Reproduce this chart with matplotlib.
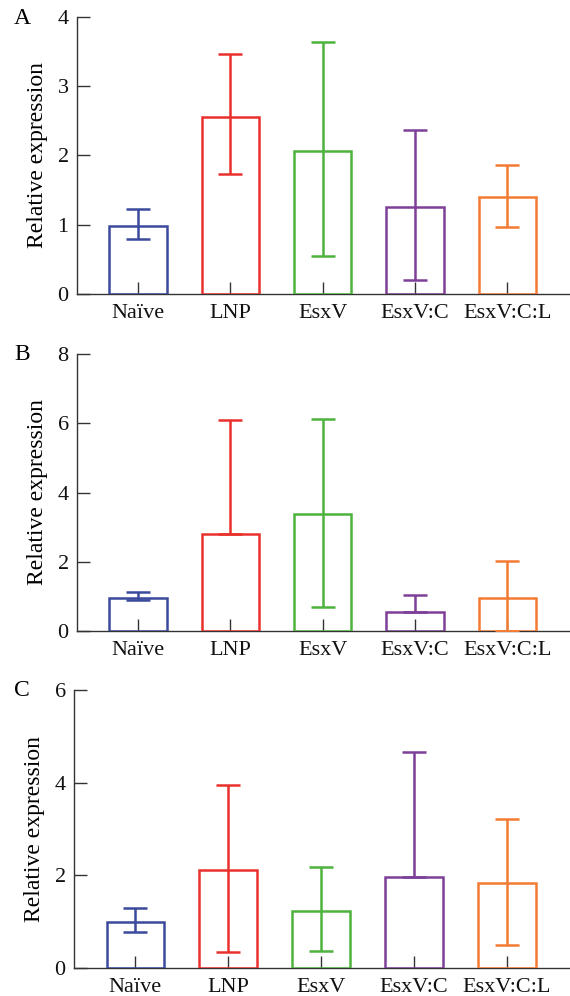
"""Relative expression bar charts (panels A-C) with asymmetric error bars."""

import matplotlib

matplotlib.use("Agg")
import matplotlib.pyplot as plt
import numpy as np

plt.rcParams["font.family"] = ["Liberation Serif", "DejaVu Serif"]

categories = ["Naïve", "LNP", "EsxV", "EsxV:C", "EsxV:C:L"]
colors = ["#3B4A9C", "#E8312C", "#4DB33D", "#7E3F98", "#F47B34"]

# Panel A
a_means = [0.98, 2.56, 2.06, 1.26, 1.40]
a_lower = [0.80, 1.74, 0.55, 0.20, 0.97]
a_upper = [1.23, 3.46, 3.64, 2.37, 1.87]

# Panel B (lower whisker not shown for LNP and EsxV:C)
b_means = [0.96, 2.79, 3.37, 0.54, 0.96]
b_lower = [0.90, 2.79, 0.69, 0.54, 0.00]
b_upper = [1.12, 6.10, 6.12, 1.04, 2.03]

# Panel C (lower whisker not shown for EsxV:C)
c_means = [0.99, 2.12, 1.22, 1.96, 1.83]
c_lower = [0.78, 0.34, 0.36, 1.96, 0.50]
c_upper = [1.29, 3.96, 2.18, 4.67, 3.22]

W, H = 570, 996
fig = plt.figure(figsize=(W / 100, H / 100), dpi=100)

panels = [
    ("A", a_means, a_lower, a_upper, 4, [0, 1, 2, 3, 4], (77, 17, 294)),
    ("B", b_means, b_lower, b_upper, 8, [0, 2, 4, 6, 8], (77, 354, 631)),
    ("C", c_means, c_lower, c_upper, 6, [0, 2, 4, 6], (74, 690, 968)),
]

axis_color = "#333333"
x = np.arange(len(categories))

for letter, means, lower, upper, ymax, yticks, (left_px, top_px, bot_px) in panels:
    ax = fig.add_axes([
        left_px / W,
        1 - bot_px / H,
        1 - left_px / W,
        (bot_px - top_px) / H,
    ])
    means = np.asarray(means)
    yerr = np.vstack([means - np.asarray(lower), np.asarray(upper) - means])

    ax.bar(x, means, width=0.62, facecolor="none", edgecolor=colors, linewidth=1.8, zorder=3)
    for i in range(len(categories)):
        ax.errorbar(
            x[i], means[i], yerr=yerr[:, i:i + 1], fmt="none", ecolor=colors[i],
            elinewidth=1.8, capsize=8.8, capthick=1.8, zorder=4,
        )

    ax.set_xlim(-0.66, 4.68)
    ax.set_ylim(0, ymax)
    ax.set_yticks(yticks)
    ax.set_xticks(x)
    ax.set_xticklabels(categories)
    ax.set_ylabel("Relative expression", fontsize=17, labelpad=7)

    for side in ("top", "right"):
        ax.spines[side].set_visible(False)
    for side in ("left", "bottom"):
        ax.spines[side].set_color(axis_color)
        ax.spines[side].set_linewidth(1.0)
    ax.spines["left"].set_bounds(0, ymax)
    ax.tick_params(direction="in", length=9, width=1.0, color=axis_color,
                   labelsize=16, labelcolor="#111111")
    ax.tick_params(axis="x", pad=7)
    ax.tick_params(axis="y", pad=6)
    ax.patch.set_alpha(0)

    fig.text(14 / W, 1 - (top_px + 1) / H, letter, fontsize=17, ha="left", va="center")

fig.savefig("out.png", dpi=100)
